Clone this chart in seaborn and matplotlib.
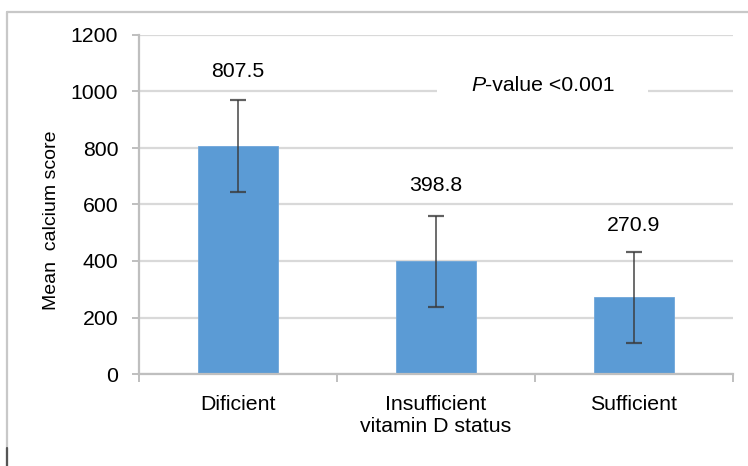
import matplotlib
matplotlib.use("Agg")
import matplotlib.pyplot as plt
import seaborn as sns
import pandas as pd
from matplotlib.lines import Line2D
from matplotlib.offsetbox import TextArea, HPacker, AnnotationBbox

categories = ["Dificient", "Insufficient\nvitamin D status", "Sufficient"]
means = [807.5, 398.8, 270.9]
errors = [163, 161, 162]
value_labels = ["807.5", "398.8", "270.9"]
label_y = [1070, 668, 524]
yticks = [0, 200, 400, 600, 800, 1000, 1200]

sns.set_theme(style="white")
plt.rcParams['font.family'] = ['Liberation Sans', 'DejaVu Sans']

FS = 15.3

df = pd.DataFrame({"status": categories, "score": means})

fig = plt.figure(figsize=(7.48, 4.66), dpi=100)
ax = fig.add_axes([139/748, 1-374/466, (733-139)/748, (374-35)/466])

grid_c = "#d9d9d9"
axis_c = "#bfbfbf"

sns.barplot(data=df, x="status", y="score", color="#5b9bd5", width=0.4,
            saturation=1, errorbar=None, ax=ax, zorder=2, edgecolor="#6fa6da", linewidth=0.6)
ax.errorbar(x=range(len(means)), y=means, yerr=errors, fmt="none",
            ecolor="#3a3a3a", elinewidth=1.3, capsize=6, capthick=1.6, zorder=3, alpha=0.8)

ax.set_xlim(-0.5, 2.5)
ax.set_ylim(0, 1200)
ax.set_yticks(yticks)
ax.set_yticklabels([str(t) for t in yticks])
ax.yaxis.grid(True, color=grid_c, linewidth=1.6, zorder=0)
ax.set_axisbelow(True)

for s in ["top", "right"]:
    ax.spines[s].set_visible(False)
ax.spines["left"].set_color(axis_c)
ax.spines["left"].set_linewidth(1.6)
ax.spines["bottom"].set_color(axis_c)
ax.spines["bottom"].set_linewidth(1.6)

ax.tick_params(axis="y", which="major", left=True, length=5, width=1.4, color=axis_c,
               labelsize=FS, pad=10, labelcolor="#000000")
ax.set_xticks([0, 1, 2])
ax.set_xticklabels(categories)
ax.set_xticks([-0.5, 0.5, 1.5, 2.5], minor=True)
ax.tick_params(axis="x", which="major", bottom=False, length=0, labelsize=FS, pad=15,
               labelcolor="#000000")
ax.tick_params(axis="x", which="minor", bottom=True, length=6, width=1.4, color=axis_c)
for lab in ax.get_xticklabels():
    lab.set_linespacing(1.2)

ax.set_xlabel("")
ax.set_ylabel("Mean  calcium score", fontsize=14, color="#000000", labelpad=8)
ax.yaxis.label.set_y(0.455)

for i, (txt, yy) in enumerate(zip(value_labels, label_y)):
    ax.text(i, yy, txt, ha="center", va="center", fontsize=FS, color="#000000", zorder=4)

ta1 = TextArea("P", textprops=dict(fontsize=FS, style="italic", color="#000000"))
ta2 = TextArea("-value <0.001", textprops=dict(fontsize=FS, color="#000000"))
pack = HPacker(children=[ta1, ta2], pad=0, sep=0, align="baseline")
ab = AnnotationBbox(pack, (1.54, 1022), xycoords="data", frameon=True,
                    bboxprops=dict(facecolor="white", edgecolor="none"), pad=0.0,
                    box_alignment=(0.5, 0.5), zorder=4)
ab.patch.set_boxstyle("square,pad=2.2")
ax.add_artist(ab)

# figure border
fig.add_artist(Line2D([7/748, 1.0], [1-12/466, 1-12/466], transform=fig.transFigure,
                      color="#c8c8c8", linewidth=1.6))
fig.add_artist(Line2D([7/748, 7/748], [0, 1-12/466], transform=fig.transFigure,
                      color="#c8c8c8", linewidth=1.6))
fig.add_artist(Line2D([7/748, 7/748], [0, 1-448/466], transform=fig.transFigure,
                      color="#555555", linewidth=1.6))

fig.savefig("out.png", dpi=100, facecolor="white")
